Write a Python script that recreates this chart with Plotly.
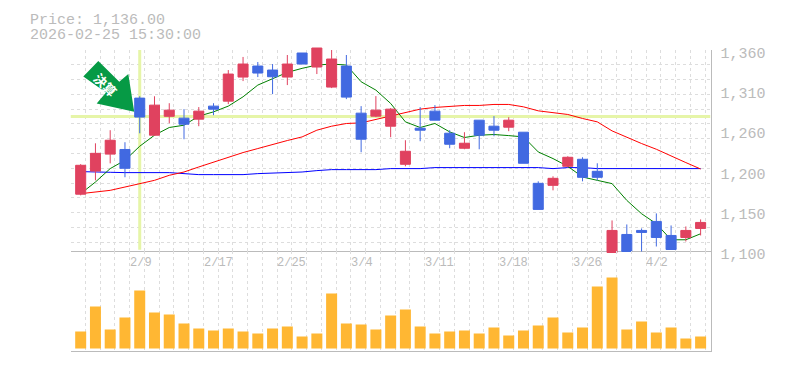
import plotly.graph_objects as go

dates = ["2/3","2/4","2/5","2/6","2/9","2/10","2/12","2/13","2/16","2/17","2/18","2/19","2/20","2/24","2/25",
         "2/26","2/27","3/2","3/3","3/4","3/5","3/6","3/9","3/10","3/11","3/12","3/13","3/16","3/17","3/18",
         "3/19","3/23","3/24","3/25","3/26","3/27","3/30","3/31","4/1","4/2","4/3","4/6","4/7"]
labelled_dates = ["2/9","2/17","2/25","3/4","3/11","3/18","3/26","4/2"]
up = [1,1,1,0,0,1,1,0,1,0,1,1,0,0,1,0,1,1,0,0,1,1,1,0,0,0,1,0,0,1,0,0,1,1,0,0,1,0,0,0,0,1,1]
high = [1212,1239,1256,1240.4,1300,1300,1291,1283.3,1286,1291,1334,1351,1344.4,1341.8,1353.5,1356.1,1362.6,1360,1353.5,1287.2,1300.2,1284.6,1243,1285.9,1288.5,1256,1253.4,1269,1274.2,1272.9,1253.4,1189.7,1196.2,1222.2,1220.9,1213.1,1139,1133.8,1128.6,1148.1,1132.5,1131.2,1140.3]
body_top = [1210.5,1226,1243,1231,1297.6,1288.5,1282,1271.6,1280.7,1287.2,1328.8,1341.8,1339.2,1334,1341.8,1356.1,1362.6,1348.3,1339.2,1278.1,1282,1283.3,1228.7,1258.6,1280.7,1252.1,1239.1,1269,1261.2,1269,1253.4,1187.1,1193.6,1220.9,1218.3,1202.7,1126,1120.8,1126,1137.7,1119.5,1126,1136.4]
body_bottom = [1173,1203,1225,1206.6,1273,1249.5,1274,1263.8,1270.3,1283.3,1293.7,1324.9,1330.1,1325.3,1324.9,1341.8,1337.9,1311.9,1298.9,1244.3,1274.2,1261.2,1211.8,1256,1269,1237.8,1232.6,1249.5,1256,1259.9,1213.1,1153.3,1184.5,1209.2,1194.9,1194.9,1097.4,1098.7,1123.4,1116.9,1101.3,1116.9,1128.6]
low = [1171.5,1191,1213,1195,1252,1249.5,1265,1244.3,1261.2,1275.5,1289.8,1319.7,1324.9,1302.8,1314.5,1341.8,1328.8,1310.6,1296.3,1227.4,1272.9,1246.9,1209.2,1241.7,1269,1232.6,1231.3,1231.3,1248.2,1254.7,1213.1,1153.3,1178,1207.9,1189.7,1191,1097.4,1098.7,1098.7,1105.2,1101.3,1111.7,1119.5]
ma_short = [1173.7,1188.8,1206.2,1217,1235.2,1249.5,1259.5,1262.5,1274.2,1279.8,1287.2,1299.3,1314.5,1323.2,1331,1336.2,1340.5,1341.8,1340.5,1318.8,1308,1290.7,1266.8,1259.5,1264.7,1253.8,1246.5,1249.5,1250.4,1249,1247.3,1227.8,1219.2,1209.2,1195.3,1191,1186.7,1165,1147.7,1134.7,1113.9,1113.9,1121.7]
ma_mid = [1173.7,1175.8,1178,1182.3,1186.7,1191,1197.5,1201.8,1208.3,1214.8,1220.5,1227,1232.2,1237.8,1242.6,1247.3,1256,1261.2,1264.7,1265.5,1269.9,1274.2,1278.5,1283.3,1285.5,1287.2,1288.1,1288.1,1289.4,1289.4,1286.3,1281.1,1278.5,1276.4,1271.2,1266.8,1255.1,1246.5,1238.7,1231.3,1222.2,1214,1205.7]
ma_long = [1202.3,1202.3,1201.4,1201,1201,1201,1201,1199.7,1198.4,1198.4,1198.4,1198.4,1199.7,1200.1,1201,1201.8,1203.6,1204.9,1204.9,1204.9,1204.9,1206.2,1206.2,1206.2,1207.5,1207.5,1208.3,1208.3,1208.3,1208.3,1208.3,1207.5,1206.2,1207.5,1207.5,1206.2,1206.2,1206.2,1206.2,1206.2,1206.2,1206.2,1206.2]
volume = [17,42,19,31,58,36,34,25,20,18,20,17,15,20,22,12,15,55,25,24,19,33,39,22,15,17,18,15,21,13,18,23,31,16,21,62,71,19,27,16,21,10,12]
price_ticks = [1360,1308,1256,1204,1152,1100]
price_tick_text = ["1,360","1,310","1,260","1,200","1,150","1,100"]
cross_price = 1273.8
cross_date = "2/9"
title_lines = ["Price: 1,136.00", "2026-02-25 15:30:00"]
arrow_text = "決算"

W, H = 785, 370
GREY = "#BBBBBB"
GRID = "#DDDDDD"
MONO = "Liberation Mono, monospace"
UP_C, DOWN_C = "#E0425F", "#4169E1"
idx = list(range(len(dates)))
open_ = [b if u else t for u, t, b in zip(up, body_top, body_bottom)]
close = [t if u else b for u, t, b in zip(up, body_top, body_bottom)]
xr = [-0.69, 42.67]
xdom = [70.5 / W, 710.5 / W]

def py(v):
    return (H - v) / H

def px(v):
    return v / W

fig = go.Figure()
fig.add_trace(go.Scatter(x=xr, y=[cross_price] * 2, mode="lines", line=dict(color="#E6F5A8", width=3), xaxis="x", yaxis="y"))
fig.add_trace(go.Scatter(x=[dates.index(cross_date)] * 2, y=[1101, 1360], mode="lines", line=dict(color="#E6F5A8", width=3), xaxis="x", yaxis="y"))
for vals, col in ((ma_long, "#0000FF"), (ma_mid, "#FF0000"), (ma_short, "#008000")):
    fig.add_trace(go.Scatter(x=idx, y=vals, mode="lines", line=dict(color=col, width=1), xaxis="x", yaxis="y4"))

fig.add_trace(go.Candlestick(
    x=idx, open=open_, high=high, low=low, close=close, xaxis="x2", yaxis="y2",
    increasing=dict(line=dict(color=UP_C, width=1), fillcolor=UP_C),
    decreasing=dict(line=dict(color=DOWN_C, width=1), fillcolor=DOWN_C),
    whiskerwidth=0,
))
fig.add_trace(go.Bar(x=idx, y=volume, width=0.745, marker=dict(color="#FFB733", line=dict(width=0)), xaxis="x3", yaxis="y3"))

axis_common = dict(range=xr, domain=xdom, tickmode="linear", tick0=xr[0], dtick=1, showticklabels=False, ticks="", zeroline=False, automargin=False)
grid_style = dict(showgrid=True, gridcolor=GRID, griddash="3px,3px", gridwidth=1)
anns = []
for i, t in enumerate(title_lines):
    anns.append(dict(text=t, xref="paper", yref="paper", x=px(28), y=py(20 + 15 * i), xanchor="left", yanchor="middle",
                     showarrow=False, font=dict(family=MONO, size=15, color=GREY)))
for d in labelled_dates:
    anns.append(dict(text=d, xref="x3", yref="paper", x=dates.index(d), y=py(263), xanchor="left", yanchor="middle", xshift=-12,
                     showarrow=False, font=dict(family=MONO, size=12, color=GREY)))
anns.append(dict(text=arrow_text, xref="paper", yref="paper", x=px(105.5), y=py(84), textangle=45, xanchor="center", yanchor="middle",
                 showarrow=False, font=dict(family="Noto Sans CJK JP", size=13, color="white", weight="bold")))

arrow_pts = [(98.3, 61), (119.3, 81.7), (128.3, 74), (134.2, 111.7), (96.7, 103.5), (106, 92.5), (83.3, 76.5)]
arrow_path = "M " + " L ".join(f"{px(a):.5f},{py(b):.5f}" for a, b in arrow_pts) + " Z"

pad = 10.0
unit = 260 / 200.5
fig.update_layout(
    width=W, height=H, margin=dict(l=0, r=0, t=0, b=0), paper_bgcolor="white", plot_bgcolor="rgba(0,0,0,0)",
    showlegend=False, hovermode=False, annotations=anns,
    shapes=[dict(type="path", path=arrow_path, xref="paper", yref="paper", fillcolor="#069A45", line=dict(width=0), layer="above")],
    xaxis=dict(**axis_common, **grid_style, anchor="y", showline=True, linecolor=GREY, linewidth=1),
    yaxis=dict(range=[1100, 1360], domain=[py(250.5), py(50)], anchor="x", side="right", tickmode="linear", tick0=1360, dtick=19.18, automargin=False,
               showticklabels=False, ticks="", zeroline=False, showline=True, linecolor=GREY, linewidth=1, **grid_style),
    yaxis4=dict(range=[1100, 1360], overlaying="y", anchor="x", side="right", tickmode="array", tickvals=price_ticks, ticktext=price_tick_text,
                showgrid=False, zeroline=False, ticks="", ticklabelstandoff=9, ticklabelshift=3, automargin=False,
                tickfont=dict(family=MONO, size=15, color=GREY)),
    xaxis2=dict(**axis_common, showgrid=False, anchor="y2", rangeslider=dict(visible=False)),
    yaxis2=dict(range=[1100 - pad * unit, 1360 + pad * unit], domain=[py(250.5 + pad), py(50 - pad)], anchor="x2", showgrid=False, automargin=False,
                showticklabels=False, ticks="", zeroline=False),
    xaxis3=dict(**axis_common, **grid_style, anchor="y3", showline=True, linecolor=GREY, linewidth=1),
    yaxis3=dict(range=[-2, 98], domain=[py(350.5), py(250.5)], anchor="x3", side="right", showgrid=False, showticklabels=False, ticks="", automargin=False,
                zeroline=False, showline=True, linecolor=GREY, linewidth=1),
    boxgap=0.32, boxgroupgap=0,
)
fig.write_html("out.html", config=dict(displayModeBar=False), post_script="document.body.style.margin='0';")
